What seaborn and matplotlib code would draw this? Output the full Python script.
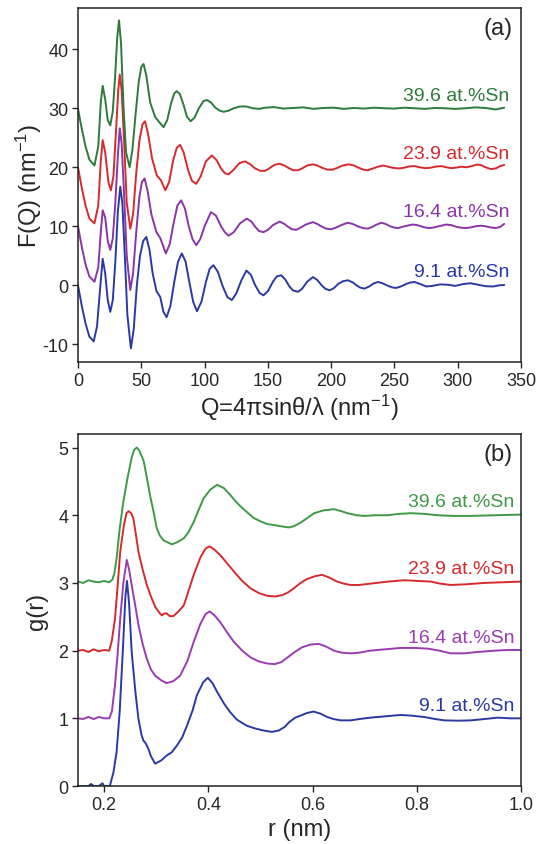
import numpy as np
import pandas as pd
import matplotlib
matplotlib.use("Agg")
import matplotlib.pyplot as plt
import seaborn as sns

# ── (a) F(Q) 곡선: (Q, F) 쌍, 조성별 ──
fq_91 = [(0, 0), (3, -3.5), (6, -6.5), (9, -8.7), (12.4, -9.5), (15, -7), (17.5, -0.5), (19.5, 4.5),
         (21.5, 2), (23.5, -2.5), (25.5, -4.5), (27.5, -2.5), (29.5, 4), (31.5, 12.5), (33.4, 16.7),
         (35, 14), (37, 5), (39, -5), (41.8, -10.7), (44, -7.5), (46.5, 0), (49, 5), (51.5, 7.5),
         (54, 8.2), (56.5, 6), (59, 2), (62, -1), (65, -2), (67.5, -4.5), (70, -5.4), (73, -3.5),
         (76, 0.5), (79, 4), (82, 5.4), (85, 4), (88, 0.5), (91, -2.8), (94, -4.4), (97.5, -2.8),
         (101, 0.5), (104, 2.8), (107, 3.4), (110.5, 2.3), (114, 0), (118, -2), (121.5, -2.5),
         (125, -1.4), (129, 0.8), (133, 2.5), (136.5, 1.8), (140, 0), (143.5, -1.3), (146.5, -1.7),
         (150, -1), (154, 0.6), (157, 1.5), (160.6, 1.7), (164, 0.9), (167, -0.2), (170, -0.9),
         (173.8, -1.1), (177, -0.6), (181, 0.6), (185.6, 1.4), (189, 0.9), (192.5, 0), (195.5, -0.6),
         (198.8, -0.85), (202, -0.5), (206, 0.3), (209.5, 0.7), (213.2, 0.85), (217, 0.5), (220, 0),
         (223, -0.4), (226.3, -0.56), (230, -0.2), (233.5, 0.3), (236.9, 0.56), (240, 0.4), (244, 0),
         (248, -0.35), (251.3, -0.45), (255, -0.2), (259, 0.2), (262, 0.45), (265.8, 0.56), (270, 0.25),
         (275, -0.2), (280, -0.1), (286, 0.15), (292, 0.1), (298, -0.1), (304, 0.2), (310, 0.35),
         (316, 0.1), (322, -0.15), (328, -0.2), (333, 0.0), (336.7, 0.05)]

fq_164 = [(0, 10), (3, 6.5), (6, 3.5), (9, 1.5), (13, 0.6), (16, 3), (18, 9), (19.5, 12.7), (21.5, 11.5),
          (23.5, 7.5), (25.5, 6), (27.5, 8), (29.5, 14), (31.5, 22), (33, 26.6), (34.5, 24), (36.5, 15),
          (38.5, 5), (41.3, -0.8), (43.5, 2), (46, 9), (48.5, 15), (50.5, 17.5), (52.6, 18.1), (55, 16),
          (58, 12), (62, 9), (65, 8), (69.4, 5.4), (72.5, 7), (75.5, 10.5), (78.5, 13.5), (81.5, 14.4),
          (84.5, 13), (87.5, 10), (90.5, 7.8), (93.4, 6.8), (96.5, 7.8), (100, 10), (105, 12.4),
          (109, 11.8), (113, 10), (116, 9), (119, 8.4), (123, 9), (128, 10.5), (133.3, 11.3),
          (137, 10.8), (140, 9.9), (143, 9.2), (146.5, 9), (150, 9.4), (154, 10.2), (159.3, 10.8),
          (163, 10.4), (166, 9.9), (169, 9.5), (172.4, 9.4), (176, 9.8), (180, 10.3), (185.6, 10.7),
          (189, 10.4), (193, 9.9), (196, 9.6), (200, 9.5), (204, 9.8), (208, 10.2), (213, 10.6),
          (217, 10.4), (221, 10.0), (225, 9.7), (229, 9.6), (232.5, 9.9), (236, 10.3), (239.6, 10.6),
          (243, 10.4), (246.5, 10.0), (249.5, 9.8), (252.7, 9.7), (256, 9.9), (260, 10.1), (264.4, 10.3),
          (268, 10.2), (271, 10.0), (274, 9.8), (277.6, 9.7), (281, 9.8), (285, 10.0), (290.8, 10.3),
          (295, 10.2), (299, 9.9), (303, 9.75), (306.5, 9.7), (310, 9.8), (314, 10.0), (318, 10.1),
          (322, 10.0), (326, 9.8), (330, 9.7), (333.5, 9.9), (336.7, 10.4)]

fq_239 = [(0, 20), (3, 16.5), (6, 13.5), (9, 11.3), (13, 10.5), (16, 13.5), (18, 21), (19.5, 24.6),
          (21.5, 22.5), (24, 17.5), (26, 16.1), (28, 18.5), (30, 26), (31.8, 33), (33, 35.7), (34.5, 33),
          (36.5, 24), (38.5, 14), (41.3, 9.6), (43.5, 12), (46, 19), (48.5, 24.5), (51, 27.3), (53, 27.8),
          (55.5, 25.5), (58.5, 21.5), (62.3, 18.6), (65.5, 17.8), (69, 16.1), (72, 17.5), (75, 21),
          (78, 23.3), (80.7, 23.8), (83.5, 22.5), (87, 19.5), (90, 17.7), (93.4, 17.2), (97, 18.5),
          (101, 21), (105.7, 22), (109.5, 21.2), (113, 19.8), (116, 19.0), (119, 18.8), (123, 19.6),
          (127.5, 20.7), (132, 21), (136, 20.5), (140, 19.8), (144, 19.4), (147.8, 19.4), (151, 19.8),
          (155, 20.4), (159.3, 20.6), (163, 20.3), (167, 19.8), (170, 19.5), (173.8, 19.5), (177, 19.8),
          (181, 20.3), (185.6, 20.5), (189, 20.3), (193, 19.9), (197, 19.6), (201, 19.6), (205, 19.9),
          (209, 20.3), (214, 20.5), (218, 20.3), (222, 19.9), (225.5, 19.6), (229, 19.5), (233, 19.8),
          (237, 20.1), (241, 20.3), (245, 20.1), (249, 19.9), (254, 19.8), (258, 19.95), (262, 20.15),
          (266, 20.2), (270, 20.0), (274, 19.85), (278, 19.9), (282, 20.1), (287, 20.2), (291, 20.0),
          (295, 19.85), (299, 19.95), (303, 20.1), (307, 20.0), (311, 20.2), (315, 20.45), (318, 20.4),
          (322, 20.0), (326, 19.7), (330, 19.8), (333.5, 20.2), (336.7, 20.4)]

fq_396 = [(0, 29.9), (3, 26.5), (6, 23.5), (9, 21.3), (13, 20.3), (16, 23.5), (18, 31), (19.5, 33.8),
          (21.5, 31.5), (23.5, 28), (25.5, 27.1), (27.5, 29.5), (29.5, 36), (31, 42), (32.4, 44.9),
          (34, 41), (36, 30), (38, 22.5), (40.8, 20), (43, 23), (45.5, 29), (48, 34.5), (50, 37),
          (51.8, 37.5), (54, 35.5), (57, 31), (61, 28.5), (64, 27.7), (67.6, 26.8), (70.5, 28),
          (73.5, 30.8), (76, 32.5), (78, 32.9), (80.5, 32.4), (83.5, 30.5), (86, 28.6), (89, 27.8),
          (92, 28.4), (95.5, 30), (99, 31.2), (101.8, 31.4), (105, 31), (108.5, 30.1), (112, 29.6),
          (115, 29.4), (119, 29.6), (123, 30.0), (128, 30.3), (133, 30.3), (138, 30.0), (143, 29.9),
          (148, 30.1), (155, 30.2), (162, 29.95), (170, 30.05), (178, 30.15), (186, 29.9), (194, 30.05),
          (202, 30.1), (210, 29.9), (218, 30.05), (226, 29.95), (234, 30.1), (242, 30.0), (250, 29.95),
          (258, 30.1), (266, 30.0), (274, 29.9), (282, 30.05), (290, 30.0), (298, 29.9), (306, 30.0),
          (314, 30.15), (322, 30.05), (330, 29.8), (336.7, 30.1)]

# ── (b) g(r) 곡선: (r, g) 쌍 ──
gr_91 = [(0.15, 0.0), (0.17, 0.0), (0.175, 0.03), (0.18, 0.0), (0.19, 0.0), (0.197, 0.04), (0.2, 0.0),
         (0.211, 0.0), (0.218, 0.2), (0.224, 0.5), (0.23, 1.1), (0.236, 2.0), (0.241, 2.8), (0.244, 3.03),
         (0.248, 2.7), (0.253, 1.98), (0.26, 1.4), (0.266, 0.99), (0.272, 0.75), (0.2757, 0.67),
         (0.28, 0.63), (0.285, 0.55), (0.29, 0.44), (0.298, 0.33), (0.31, 0.38), (0.32, 0.45),
         (0.33, 0.5), (0.34, 0.6), (0.35, 0.72), (0.359, 0.89), (0.37, 1.12), (0.378, 1.34),
         (0.39, 1.53), (0.399, 1.6), (0.408, 1.52), (0.417, 1.39), (0.43, 1.22), (0.442, 1.09),
         (0.455, 0.98), (0.474, 0.89), (0.49, 0.85), (0.506, 0.82), (0.522, 0.8), (0.535, 0.82),
         (0.546, 0.87), (0.556, 0.95), (0.567, 1.01), (0.58, 1.05), (0.59, 1.08), (0.602, 1.1),
         (0.615, 1.07), (0.628, 1.02), (0.64, 0.99), (0.654, 0.97), (0.673, 0.97), (0.69, 0.99),
         (0.711, 1.01), (0.74, 1.03), (0.769, 1.05), (0.79, 1.04), (0.814, 1.02), (0.835, 0.99),
         (0.853, 0.97), (0.88, 0.965), (0.904, 0.97), (0.93, 0.99), (0.955, 1.01), (0.98, 1.0), (1.0, 1.0)]

gr_164 = [(0.15, 1.0), (0.16, 0.99), (0.17, 1.02), (0.18, 0.99), (0.19, 1.02), (0.2, 1.0), (0.21, 1.0),
          (0.215, 1.1), (0.221, 1.49), (0.226, 1.95), (0.231, 2.47), (0.237, 3.0), (0.2436, 3.34),
          (0.248, 3.2), (0.253, 2.97), (0.26, 2.66), (0.266, 2.38), (0.274, 2.1), (0.282, 1.88),
          (0.29, 1.72), (0.298, 1.63), (0.31, 1.56), (0.32, 1.52), (0.333, 1.55), (0.346, 1.63),
          (0.36, 1.85), (0.372, 2.13), (0.385, 2.4), (0.395, 2.54), (0.4026, 2.58), (0.412, 2.52),
          (0.423, 2.42), (0.436, 2.27), (0.449, 2.13), (0.465, 2.0), (0.481, 1.9), (0.497, 1.84),
          (0.513, 1.81), (0.527, 1.8), (0.54, 1.83), (0.552, 1.9), (0.564, 1.97), (0.58, 2.05),
          (0.596, 2.09), (0.612, 2.1), (0.626, 2.06), (0.641, 2.0), (0.656, 1.97), (0.673, 1.96),
          (0.69, 1.97), (0.711, 2.0), (0.74, 2.02), (0.769, 2.04), (0.795, 2.04), (0.821, 2.03),
          (0.843, 2.0), (0.865, 1.96), (0.89, 1.96), (0.917, 1.98), (0.95, 2.0), (0.975, 2.01), (1.0, 2.01)]

gr_239 = [(0.15, 2.0), (0.16, 2.01), (0.17, 1.98), (0.18, 2.02), (0.19, 1.99), (0.2, 2.01), (0.21, 2.0),
          (0.215, 2.15), (0.221, 2.47), (0.226, 2.95), (0.231, 3.46), (0.238, 3.85), (0.243, 4.03),
          (0.247, 4.06), (0.252, 4.03), (0.256, 3.96), (0.261, 3.72), (0.266, 3.46), (0.274, 3.2),
          (0.282, 2.97), (0.29, 2.8), (0.298, 2.65), (0.305, 2.57), (0.311, 2.52), (0.316, 2.55),
          (0.32, 2.55), (0.326, 2.51), (0.333, 2.51), (0.343, 2.58), (0.353, 2.67), (0.362, 2.88),
          (0.372, 3.12), (0.385, 3.38), (0.395, 3.51), (0.4026, 3.54), (0.412, 3.49), (0.423, 3.41),
          (0.436, 3.29), (0.449, 3.17), (0.465, 3.03), (0.481, 2.92), (0.497, 2.85), (0.513, 2.81),
          (0.528, 2.8), (0.542, 2.82), (0.553, 2.86), (0.564, 2.92), (0.577, 3.0), (0.59, 3.06),
          (0.605, 3.1), (0.618, 3.12), (0.632, 3.08), (0.647, 3.02), (0.66, 2.99), (0.673, 2.97),
          (0.69, 2.97), (0.711, 2.99), (0.745, 3.02), (0.776, 3.04), (0.8, 3.03), (0.827, 3.02),
          (0.845, 2.99), (0.865, 2.97), (0.895, 2.98), (0.929, 3.0), (0.965, 3.01), (1.0, 3.02)]

gr_396 = [(0.15, 3.02), (0.16, 3.0), (0.17, 3.04), (0.18, 3.02), (0.19, 3.01), (0.2, 3.03), (0.21, 3.01),
          (0.216, 3.05), (0.22, 3.15), (0.224, 3.36), (0.23, 3.8), (0.237, 4.2), (0.245, 4.55),
          (0.253, 4.85), (0.258, 4.97), (0.263, 5.0), (0.268, 4.95), (0.276, 4.8), (0.282, 4.56),
          (0.288, 4.3), (0.295, 4.05), (0.301, 3.81), (0.307, 3.7), (0.314, 3.63), (0.322, 3.6),
          (0.33, 3.57), (0.34, 3.6), (0.353, 3.66), (0.362, 3.75), (0.372, 3.9), (0.381, 4.07),
          (0.391, 4.25), (0.404, 4.38), (0.417, 4.45), (0.43, 4.4), (0.442, 4.3), (0.452, 4.21),
          (0.462, 4.13), (0.475, 4.04), (0.487, 3.96), (0.5, 3.91), (0.513, 3.87), (0.53, 3.85),
          (0.545, 3.83), (0.555, 3.82), (0.565, 3.84), (0.577, 3.89), (0.59, 3.96), (0.603, 4.03),
          (0.62, 4.07), (0.641, 4.09), (0.655, 4.06), (0.667, 4.03), (0.685, 4.0), (0.699, 3.99),
          (0.72, 4.0), (0.744, 4.0), (0.765, 4.02), (0.789, 4.03), (0.815, 4.02), (0.84, 4.0),
          (0.87, 3.99), (0.904, 3.99), (0.95, 4.0), (1.0, 4.01)]

labels = ["9.1 at.%Sn", "16.4 at.%Sn", "23.9 at.%Sn", "39.6 at.%Sn"]
colors_a = ["#2b3aa3", "#8a35a8", "#d62a2e", "#2d7a3c"]
colors_b = ["#2b3aa3", "#9a3cb0", "#d62a2e", "#3f9a48"]
label_y_a = [2.4, 12.5, 22.4, 32.2]
label_y_b = [1.19, 2.2, 3.21, 4.2]

sns.set_style("ticks")
plt.rcParams["font.family"] = ["Liberation Sans", "DejaVu Sans"]
plt.rcParams["mathtext.fontset"] = "custom"
plt.rcParams["mathtext.rm"] = "Liberation Sans"
plt.rcParams["mathtext.it"] = "Liberation Sans:italic"
plt.rcParams["axes.unicode_minus"] = False

fig = plt.figure(figsize=(5.39, 8.45), dpi=100)
ax_a = fig.add_axes([0.1447, 0.5704, 0.822, 0.419])
ax_b = fig.add_axes([0.1447, 0.0686, 0.822, 0.4166])


def draw_curves(ax, curves, xcol, ycol, colors):
    for pts, c in zip(curves, colors):
        df = pd.DataFrame(pts, columns=[xcol, ycol])
        sns.lineplot(data=df, x=xcol, y=ycol, ax=ax, color=c, linewidth=1.4,
                     estimator=None, sort=False)


draw_curves(ax_a, [fq_91, fq_164, fq_239, fq_396], "Q", "F", colors_a)
draw_curves(ax_b, [gr_91, gr_164, gr_239, gr_396], "r", "g", colors_b)

for lab, y, c in zip(labels, label_y_a, colors_a):
    ax_a.text(340.7, y, lab, color=c, fontsize=14, ha="right", va="center")
for lab, y, c in zip(labels, label_y_b, colors_b):
    ax_b.text(0.9865, y, lab, color=c, fontsize=14, ha="right", va="center")

ax_a.set_xlim(0, 350)
ax_a.set_ylim(-13, 47)
ax_a.set_xticks(np.arange(0, 351, 50))
ax_a.set_yticks(np.arange(-10, 41, 10))
ax_a.set_xlabel("Q=4πsinθ/λ (nm$^{-1}$)", fontsize=17, labelpad=2)
ax_a.set_ylabel("F(Q) (nm$^{-1}$)", fontsize=17, labelpad=-1)
ax_a.text(0.98, 0.975, "(a)", transform=ax_a.transAxes, fontsize=17, ha="right", va="top")

ax_b.set_xlim(0.15, 1.0)
ax_b.set_ylim(0, 5.2)
ax_b.set_xticks([0.2, 0.4, 0.6, 0.8, 1.0])
ax_b.set_xticklabels(["0.2", "0.4", "0.6", "0.8", "1.0"])
ax_b.set_yticks(range(0, 6))
ax_b.set_xlabel("r (nm)", fontsize=17, labelpad=4)
ax_b.set_ylabel("g(r)", fontsize=17, labelpad=7)
ax_b.text(0.98, 0.975, "(b)", transform=ax_b.transAxes, fontsize=17, ha="right", va="top")

for ax in (ax_a, ax_b):
    ax.tick_params(direction="out", length=4, width=1, labelsize=13, pad=3)
    for s in ax.spines.values():
        s.set_linewidth(1.1)
        s.set_color("#222222")
    if ax.get_legend() is not None:
        ax.get_legend().remove()

fig.savefig("out.png", dpi=100, facecolor="white")
